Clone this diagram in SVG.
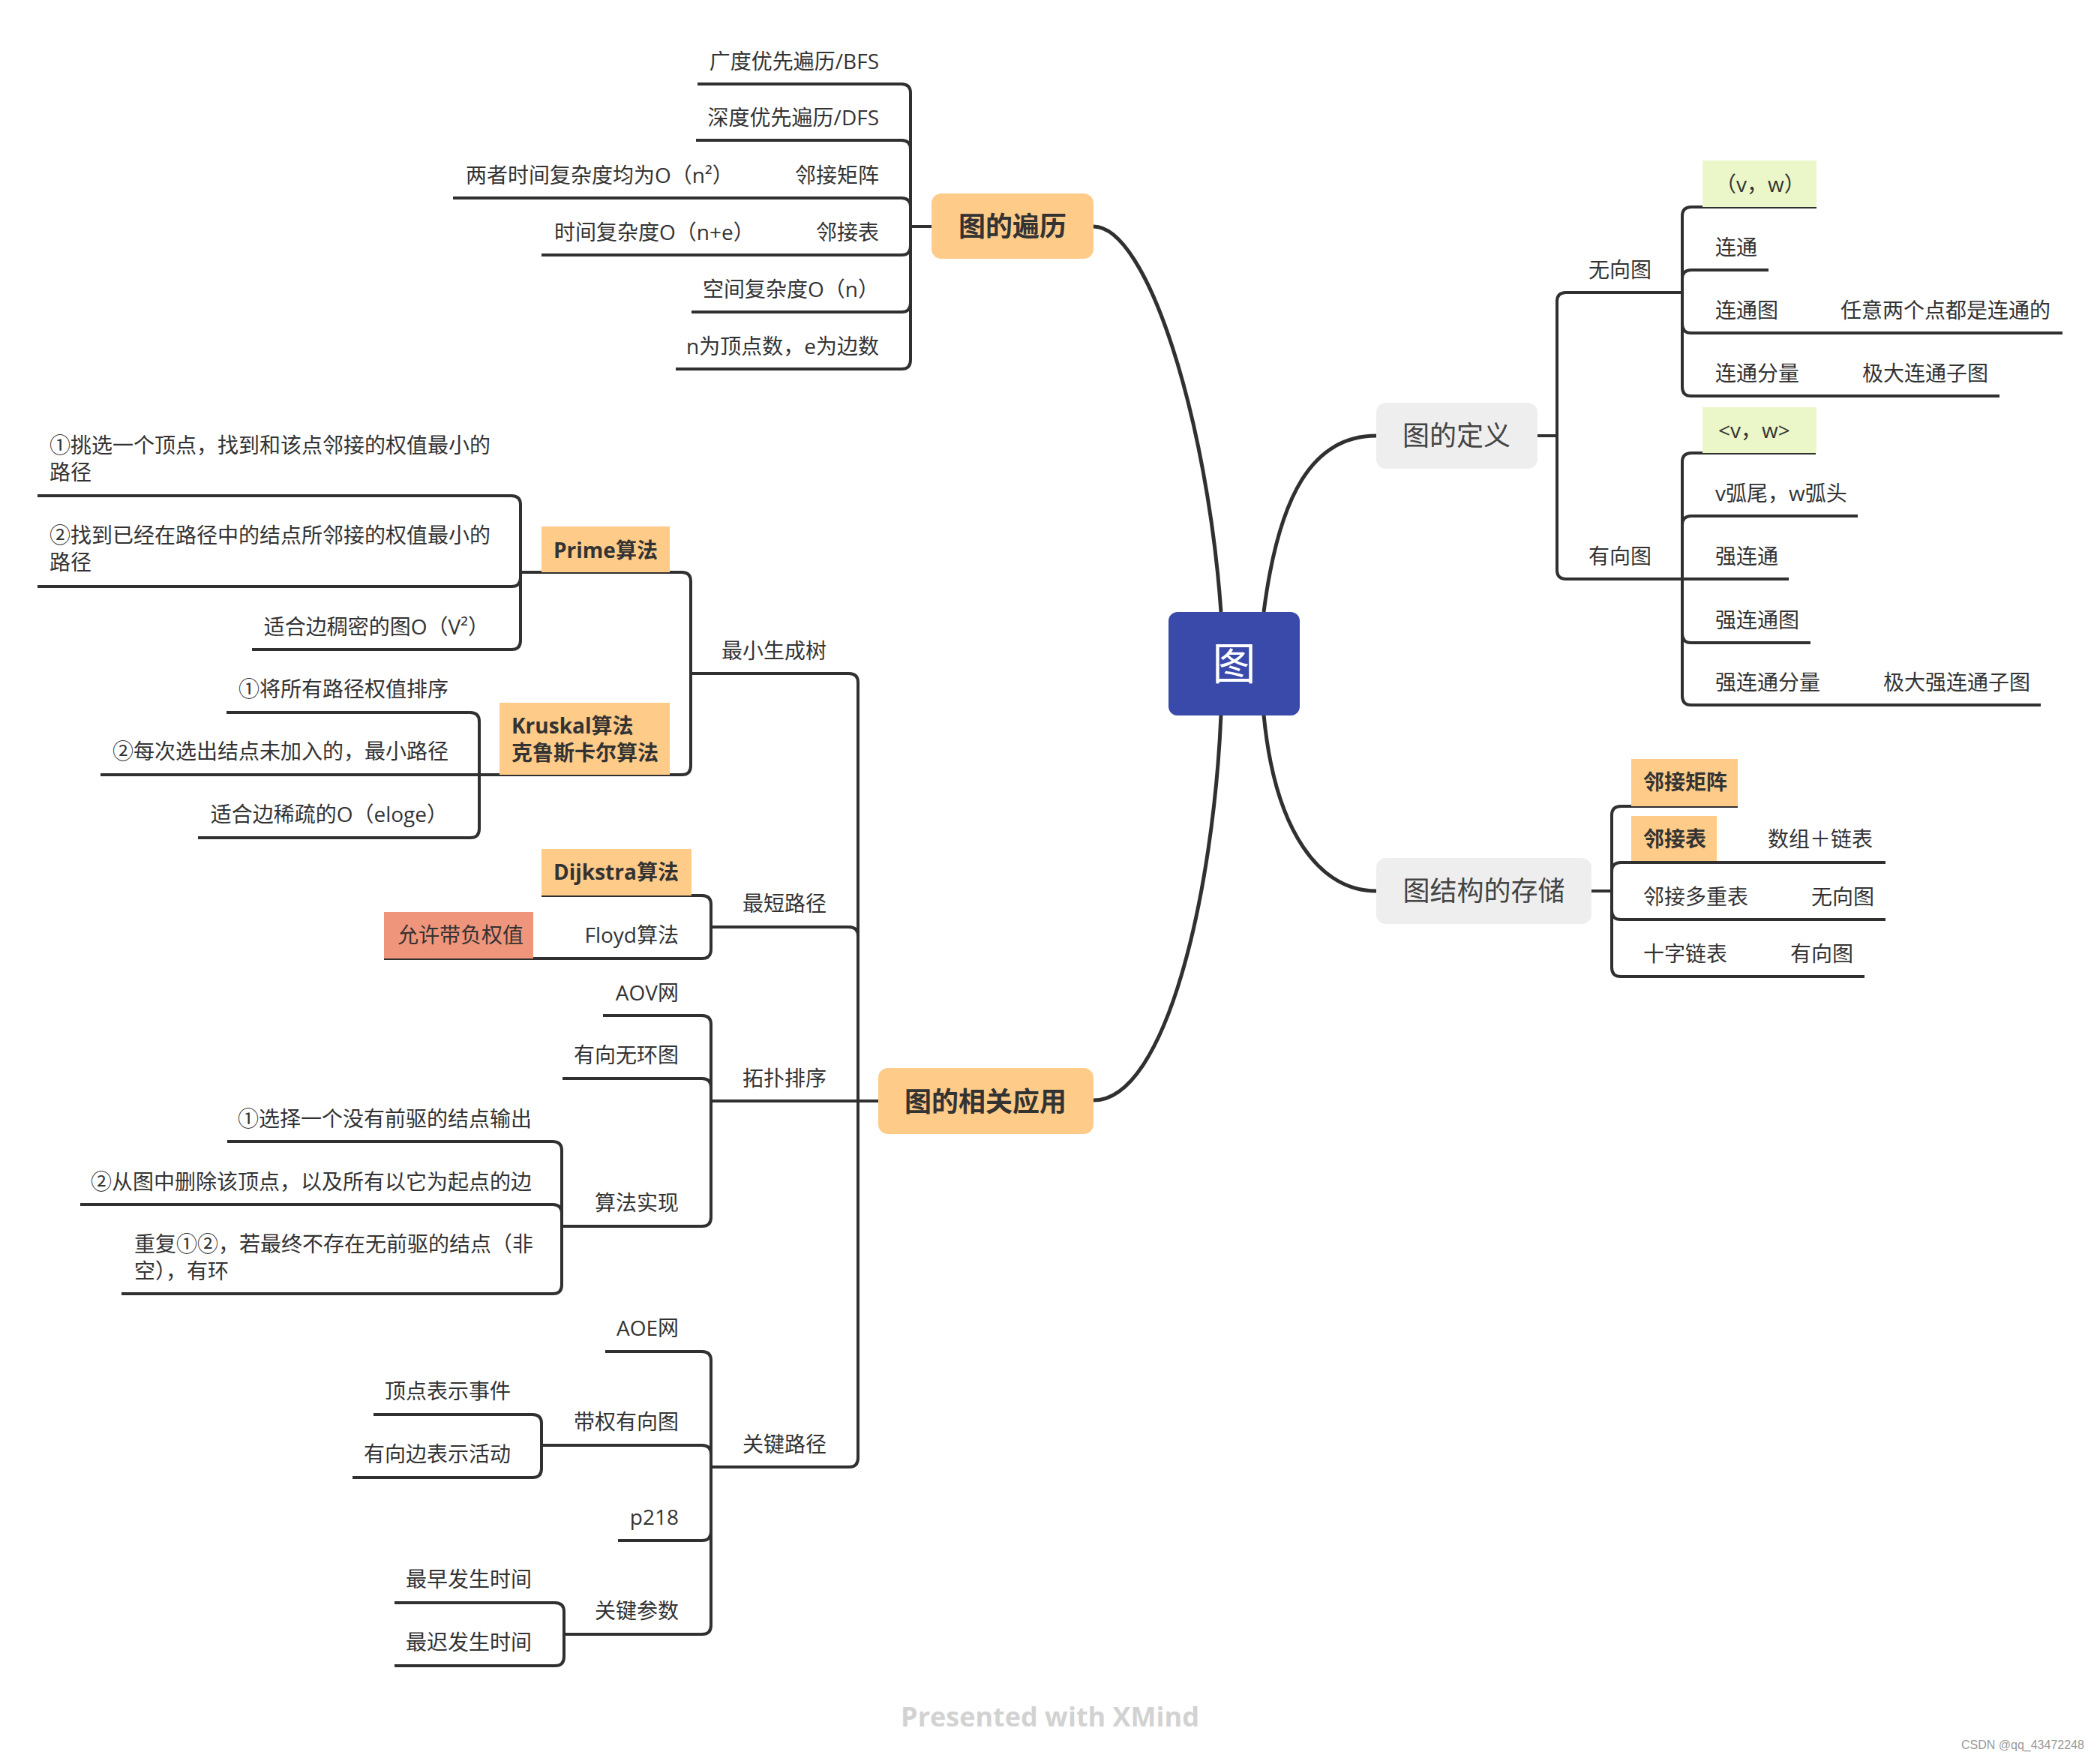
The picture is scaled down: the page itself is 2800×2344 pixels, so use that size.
<svg xmlns="http://www.w3.org/2000/svg" width="2800" height="2344" viewBox="0 0 2800 2344">
<style>
.t{font-family:'Open Sans','Noto Sans CJK SC',sans-serif;font-size:28px;fill:#333}
.e{text-anchor:end}
.b{font-weight:bold}
.m{font-size:36px;text-anchor:middle}
.ln{fill:none;stroke:#303030;stroke-width:4}
.cv{fill:none;stroke:#303030;stroke-width:5}
.pe{fill:#FECB89}
.gr{fill:#EEEEEE}
.gn{fill:#EBF7C9}
</style>
<rect width="2800" height="2344" fill="#fff"/>
<g id="connectors">
<path class="cv" d="M1458 302 C1530 302 1610 560 1628 816"/>
<path class="cv" d="M1685 816 C1705 660 1750 581 1835 581"/>
<path class="cv" d="M1685 953 C1700 1110 1760 1188 1835 1188"/>
<path class="cv" d="M1628 953 C1618 1190 1555 1467 1458 1467"/>
<path class="ln" d="M1242 302 H1214"/>
<path class="ln" d="M1214 302 V124 Q1214 112 1202 112 H930"/>
<path class="ln" d="M1214 302 V199 Q1214 187 1202 187 H928"/>
<path class="ln" d="M1214 302 V276 Q1214 264 1202 264 H604"/>
<path class="ln" d="M1214 302 V328 Q1214 340 1202 340 H722"/>
<path class="ln" d="M1214 302 V404 Q1214 416 1202 416 H922"/>
<path class="ln" d="M1214 302 V480 Q1214 492 1202 492 H901"/>
<path class="ln" d="M1171 1468 H1144"/>
<path class="ln" d="M1144 1468 V910 Q1144 898 1132 898 H921"/>
<path class="ln" d="M1144 1468 V1248 Q1144 1236 1132 1236 H948"/>
<path class="ln" d="M1144 1468 H948"/>
<path class="ln" d="M1144 1468 V1944 Q1144 1956 1132 1956 H948"/>
<path class="ln" d="M921 898 V775 Q921 763 909 763 H694"/>
<path class="ln" d="M921 898 V1021 Q921 1033 909 1033 H639"/>
<path class="ln" d="M694 763 V673 Q694 661 682 661 H50"/>
<path class="ln" d="M694 763 V770 Q694 782 682 782 H50"/>
<path class="ln" d="M694 763 V854 Q694 866 682 866 H336"/>
<path class="ln" d="M639 1033 V962 Q639 950 627 950 H302"/>
<path class="ln" d="M639 1033 H134"/>
<path class="ln" d="M639 1033 V1105 Q639 1117 627 1117 H264"/>
<path class="ln" d="M948 1236 V1206 Q948 1194 936 1194 H722"/>
<path class="ln" d="M948 1236 V1266 Q948 1278 936 1278 H512"/>
<path class="ln" d="M948 1468 V1366 Q948 1354 936 1354 H804"/>
<path class="ln" d="M948 1468 V1450 Q948 1438 936 1438 H750"/>
<path class="ln" d="M948 1468 V1623 Q948 1635 936 1635 H749"/>
<path class="ln" d="M749 1635 V1534 Q749 1522 737 1522 H303"/>
<path class="ln" d="M749 1635 V1618 Q749 1606 737 1606 H107"/>
<path class="ln" d="M749 1635 V1713 Q749 1725 737 1725 H162"/>
<path class="ln" d="M948 1956 V1814 Q948 1802 936 1802 H807"/>
<path class="ln" d="M948 1956 V1939 Q948 1927 936 1927 H722"/>
<path class="ln" d="M948 1956 V2042 Q948 2054 936 2054 H824"/>
<path class="ln" d="M948 1956 V2167 Q948 2179 936 2179 H752"/>
<path class="ln" d="M722 1927 V1898 Q722 1886 710 1886 H498"/>
<path class="ln" d="M722 1927 V1958 Q722 1970 710 1970 H470"/>
<path class="ln" d="M752 2179 V2149 Q752 2137 740 2137 H526"/>
<path class="ln" d="M752 2179 V2209 Q752 2221 740 2221 H526"/>
<path class="ln" d="M2050 581 H2076"/>
<path class="ln" d="M2076 581 V402 Q2076 390 2088 390 H2243"/>
<path class="ln" d="M2076 581 V760 Q2076 772 2088 772 H2243"/>
<path class="ln" d="M2243 390 V288 Q2243 276 2255 276 H2422"/>
<path class="ln" d="M2243 390 V372 Q2243 360 2255 360 H2358"/>
<path class="ln" d="M2243 390 V432 Q2243 444 2255 444 H2750"/>
<path class="ln" d="M2243 390 V516 Q2243 528 2255 528 H2666"/>
<path class="ln" d="M2243 772 V616 Q2243 604 2255 604 H2421"/>
<path class="ln" d="M2243 772 V700 Q2243 688 2255 688 H2477"/>
<path class="ln" d="M2243 772 H2385"/>
<path class="ln" d="M2243 772 V845 Q2243 857 2255 857 H2414"/>
<path class="ln" d="M2243 772 V928 Q2243 940 2255 940 H2721"/>
<path class="ln" d="M2122 1188 H2149"/>
<path class="ln" d="M2149 1188 V1087 Q2149 1075 2161 1075 H2317"/>
<path class="ln" d="M2149 1188 V1162 Q2149 1150 2161 1150 H2514"/>
<path class="ln" d="M2149 1188 V1214 Q2149 1226 2161 1226 H2514"/>
<path class="ln" d="M2149 1188 V1290 Q2149 1302 2161 1302 H2486"/>
</g>
<g id="root"><rect x="1558" y="816" width="175" height="138" rx="12" fill="#3A4AAA"/><text class="t" x="1645.5" y="906" text-anchor="middle" style="font-size:58px;fill:#fff">图</text></g>
<g id="n-bianli"><rect class="pe" x="1242" y="258" width="216" height="87" rx="13"/><text class="t m b" x="1350" y="315">图的遍历</text></g>
<g id="n-bfs"><text class="t e" x="1172" y="92">广度优先遍历/BFS</text></g>
<g id="n-dfs"><text class="t e" x="1172" y="167">深度优先遍历/DFS</text></g>
<g id="n-juzhen"><text class="t e" x="1172" y="244">邻接矩阵</text></g>
<g id="n-juzhen-c"><text class="t" x="621" y="244">两者时间复杂度均为O（n²）</text></g>
<g id="n-biao"><text class="t e" x="1172" y="320">邻接表</text></g>
<g id="n-biao-c"><text class="t" x="739" y="320">时间复杂度O（n+e）</text></g>
<g id="n-kongjian"><text class="t e" x="1172" y="396">空间复杂度O（n）</text></g>
<g id="n-ne"><text class="t e" x="1172" y="472">n为顶点数，e为边数</text></g>
<g id="n-dingyi"><rect class="gr" x="1835" y="537" width="215" height="88" rx="13"/><text class="t m" x="1942" y="594" style="fill:#444">图的定义</text></g>
<g id="n-wuxiang"><text class="t" x="2118" y="370">无向图</text></g>
<g id="n-vw1"><rect class="gn" x="2270" y="214" width="152" height="62"/><text class="t" x="2287" y="256">（v，w）</text></g>
<g id="n-liantong"><text class="t" x="2287" y="340">连通</text></g>
<g id="n-ltt"><text class="t" x="2287" y="424">连通图</text><text class="t" x="2454" y="424">任意两个点都是连通的</text></g>
<g id="n-ltfl"><text class="t" x="2287" y="508">连通分量</text><text class="t" x="2483" y="508">极大连通子图</text></g>
<g id="n-youxiang"><text class="t" x="2118" y="752">有向图</text></g>
<g id="n-vw2"><rect class="gn" x="2270" y="543" width="152" height="61"/><text class="t" x="2291" y="584">&lt;v，w&gt;</text></g>
<g id="n-hu"><text class="t" x="2287" y="668">v弧尾，w弧头</text></g>
<g id="n-qlt"><text class="t" x="2287" y="752">强连通</text></g>
<g id="n-qltt"><text class="t" x="2287" y="837">强连通图</text></g>
<g id="n-qltfl"><text class="t" x="2287" y="920">强连通分量</text><text class="t" x="2511" y="920">极大强连通子图</text></g>
<g id="n-cunchu"><rect class="gr" x="1835" y="1144" width="287" height="88" rx="13"/><text class="t m" x="1978.5" y="1201" style="fill:#444">图结构的存储</text></g>
<g id="n-s-juzhen"><rect class="pe" x="2175" y="1012" width="142" height="63"/><text class="t b" x="2191" y="1053">邻接矩阵</text></g>
<g id="n-s-biao"><rect class="pe" x="2175" y="1088" width="114" height="60"/><text class="t b" x="2191" y="1129">邻接表</text><text class="t" x="2357" y="1129">数组＋链表</text></g>
<g id="n-s-duochong"><text class="t" x="2191" y="1206">邻接多重表</text><text class="t" x="2415" y="1206">无向图</text></g>
<g id="n-s-shizi"><text class="t" x="2191" y="1282">十字链表</text><text class="t" x="2387" y="1282">有向图</text></g>
<g id="n-yingyong"><rect class="pe" x="1171" y="1424" width="287" height="88" rx="13"/><text class="t m b" x="1314" y="1482">图的相关应用</text></g>
<g id="n-mst"><text class="t e" x="1102" y="878">最小生成树</text></g>
<g id="n-prime"><rect class="pe" x="722" y="702" width="171" height="61"/><text class="t b" x="738" y="744">Prime算法</text></g>
<g id="n-p1"><text class="t" x="66" y="604">①挑选一个顶点，找到和该点邻接的权值最小的<tspan x="66" dy="36">路径</tspan></text></g>
<g id="n-p2"><text class="t" x="66" y="724">②找到已经在路径中的结点所邻接的权值最小的<tspan x="66" dy="36">路径</tspan></text></g>
<g id="n-p3"><text class="t e" x="652" y="846">适合边稠密的图O（V²）</text></g>
<g id="n-kruskal"><rect class="pe" x="666" y="937" width="227" height="96"/><text class="t b" x="682" y="978">Kruskal算法<tspan x="682" dy="36">克鲁斯卡尔算法</tspan></text></g>
<g id="n-k1"><text class="t e" x="598" y="929">①将所有路径权值排序</text></g>
<g id="n-k2"><text class="t e" x="598" y="1012">②每次选出结点未加入的，最小路径</text></g>
<g id="n-k3"><text class="t e" x="597" y="1096">适合边稀疏的O（eloge）</text></g>
<g id="n-zdlj"><text class="t e" x="1102" y="1215">最短路径</text></g>
<g id="n-dijkstra"><rect class="pe" x="722" y="1132" width="200" height="62"/><text class="t b" x="738" y="1173">Dijkstra算法</text></g>
<g id="n-floyd"><text class="t e" x="905" y="1257">Floyd算法</text></g>
<g id="n-fuquan"><rect x="512" y="1216" width="199" height="62" fill="#EF957B"/><text class="t" x="530" y="1257">允许带负权值</text></g>
<g id="n-tuopu"><text class="t e" x="1102" y="1448">拓扑排序</text></g>
<g id="n-aov"><text class="t e" x="905" y="1334">AOV网</text></g>
<g id="n-dag"><text class="t e" x="905" y="1417">有向无环图</text></g>
<g id="n-sfsx"><text class="t e" x="905" y="1614">算法实现</text></g>
<g id="n-s1"><text class="t e" x="709" y="1502">①选择一个没有前驱的结点输出</text></g>
<g id="n-s2"><text class="t e" x="709" y="1586">②从图中删除该顶点，以及所有以它为起点的边</text></g>
<g id="n-s3"><text class="t" x="179" y="1669">重复①②，若最终不存在无前驱的结点（非<tspan x="179" dy="36">空），有环</tspan></text></g>
<g id="n-gjlj"><text class="t e" x="1102" y="1936">关键路径</text></g>
<g id="n-aoe"><text class="t e" x="905" y="1781">AOE网</text></g>
<g id="n-dqyxt"><text class="t e" x="905" y="1906">带权有向图</text></g>
<g id="n-dd"><text class="t e" x="681" y="1865">顶点表示事件</text></g>
<g id="n-yxb"><text class="t e" x="681" y="1949">有向边表示活动</text></g>
<g id="n-p218"><text class="t e" x="905" y="2033">p218</text></g>
<g id="n-gjcs"><text class="t e" x="905" y="2158">关键参数</text></g>
<g id="n-zz"><text class="t e" x="709" y="2116">最早发生时间</text></g>
<g id="n-zc"><text class="t e" x="709" y="2200">最迟发生时间</text></g>
<text x="1400" y="2302" text-anchor="middle" style="font-family:'Open Sans','Noto Sans',sans-serif;font-size:36px;font-weight:bold;fill:#D2D2D2">Presented with XMind</text>
<text x="2615" y="2332" style="font-family:'Liberation Sans',Arial,sans-serif;font-size:16px;fill:#999">CSDN @qq_43472248</text>
</svg>
